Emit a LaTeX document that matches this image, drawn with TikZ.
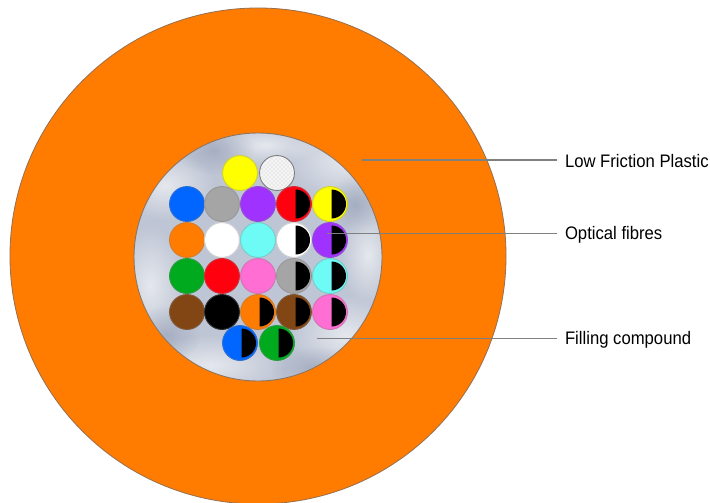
\documentclass[tikz,border=0pt]{standalone}
\usepackage{fontspec}
\setmainfont[FakeStretch=0.92]{Liberation Sans}
\usetikzlibrary{fadings,patterns}
\definecolor{cJacket}{RGB}{255,124,0}
\definecolor{cEdge}{RGB}{150,110,80}
\definecolor{cFill}{RGB}{190,197,212}
\definecolor{cShade}{RGB}{150,160,182}
\definecolor{cLeader}{RGB}{128,128,128}
\definecolor{cBlue}{RGB}{0,102,255}
\definecolor{cGray}{RGB}{165,165,165}
\definecolor{cPurple}{RGB}{160,50,255}
\definecolor{cRed}{RGB}{255,0,15}
\definecolor{cYellow}{RGB}{255,255,0}
\definecolor{cCyan}{RGB}{110,250,245}
\definecolor{cPink}{RGB}{255,110,210}
\definecolor{cGreen}{RGB}{0,170,30}
\definecolor{cBrown}{RGB}{130,70,20}
\definecolor{cOrange}{RGB}{255,124,0}
\tikzfading[name=softblob, inner color=transparent!0, outer color=transparent!100]
\tikzset{
  fibre/.style={circle, inner sep=0pt, minimum size=26.2pt, fill=#1, draw=#1!65!gray, line width=0.7pt},
  leader/.style={draw=cLeader, line width=0.9pt},
  callout/.style={anchor=west, inner sep=0pt, outer sep=6pt, font=\fontsize{13.6}{16}\selectfont},
  blob/.style={fill=#1, path fading=softblob, fit fading=true}
}
\begin{document}
\begin{tikzpicture}[x=0.75pt, y=-0.75pt]
        \useasboundingbox (0,0) rectangle (710,503);
        \fill[white] (0,0) rectangle (710,503);
        \clip (0,0) rectangle (710,503);
        % jacket and filling compound
        \draw[fill=cJacket, draw=cEdge, line width=0.6pt] (258,256) circle (248);
        \draw[fill=cFill, draw=cEdge!70!gray, line width=0.7pt] (258,257) circle (124);
        \begin{scope}
          \clip (258,257) circle (123.5);
          \foreach \x/\y/\rx/\ry/\c in {165/185/50/35/white, 345/160/60/40/white, 210/365/75/30/white,
              345/335/55/40/white, 150/285/35/60/white, 368/255/28/50/white, 265/145/55/20/white,
              215/150/40/25/cShade, 315/368/45/22/cShade, 165/335/35/30/cShade, 355/205/28/30/cShade}
            \fill[blob=\c, opacity=0.6] (\x,\y) ellipse ({\rx} and {\ry});
        \end{scope}
        % plain fibres
        \foreach \x/\y/\c [count=\i] in {240/173/cYellow,
            187/204/cBlue, 222/204/cGray, 258/204/cPurple,
            187/240/cOrange, 222/240/white, 258/240/cCyan,
            187/276/cGreen, 222/276/cRed, 258/276/cPink,
            187/312/cBrown, 222/312/black}
          \node[fibre=\c] (plain\i) at (\x,\y) {};
        \node[fibre=white!92!gray, draw=gray] (hatched) at (277,173) {};
        \fill[pattern=crosshatch dots, pattern color=gray!45] (277,173) circle (16);
        % fibres with a black half
        \foreach \x/\y/\c [count=\i] in {294/204/cRed, 330/204/cYellow,
            294/240/white, 330/240/cPurple,
            294/276/cGray, 330/276/cCyan,
            258/312/cOrange, 294/312/cBrown, 330/312/cPink,
            240/343/cBlue, 277/343/cGreen} {
          \node[fibre=\c] (half\i) at (\x,\y) {};
          \fill[black] (\x+1.5,\y-14.5) arc (-90:90:14.5) -- cycle;
        }
        % labels
        \node[callout] (plastic) at (557,161) {Low Friction Plastic};
        \node[callout] (fibres) at (557,235) {Optical fibres};
        \node[callout] (compound) at (557,340) {Filling compound};
        \coordinate (plasticend) at (362,160);
        \coordinate (fibresend) at (327,233.5);
        \coordinate (compoundend) at (317,338.5);
        \draw[leader] (plasticend) -- (plasticend -| plastic.west);
        \draw[leader] (fibresend) -- (fibresend -| fibres.west);
        \draw[leader] (compoundend) -- (compoundend -| compound.west);
      \end{tikzpicture}
\end{document}
